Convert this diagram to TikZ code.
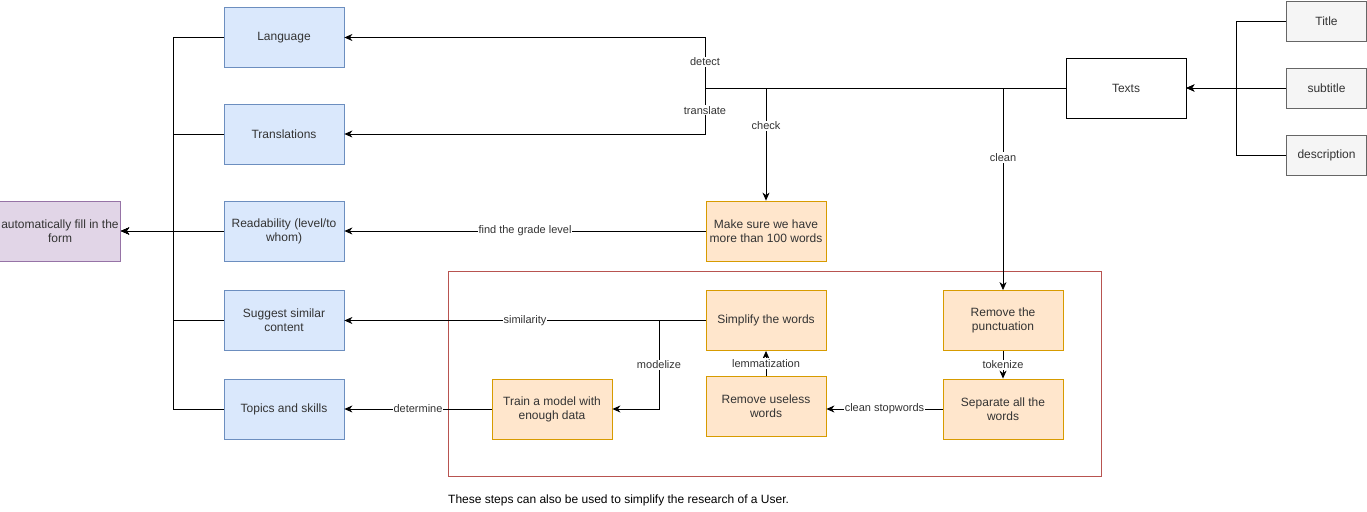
\documentclass[tikz,border=0pt]{standalone}
\usepackage{fontspec}
\setmainfont{Liberation Sans}
\usetikzlibrary{arrows.meta}
\definecolor{bfill}{HTML}{DAE8FC}
\definecolor{bdraw}{HTML}{6C8EBF}
\definecolor{pfill}{HTML}{E1D5E7}
\definecolor{pdraw}{HTML}{9673A6}
\definecolor{ofill}{HTML}{FFE6CC}
\definecolor{odraw}{HTML}{D79B00}
\definecolor{gfill}{HTML}{F5F5F5}
\definecolor{gdraw}{HTML}{666666}
\definecolor{gtext}{HTML}{333333}
\definecolor{redc}{HTML}{B85450}
\tikzset{
  box/.style={draw, minimum width=120pt, minimum height=60pt, align=center, font=\fontsize{12}{14}\selectfont, line width=0.8pt, inner sep=2pt, text=gtext},
  bluebox/.style={box, fill=bfill, draw=bdraw},
  purplebox/.style={box, fill=pfill, draw=pdraw},
  orangebox/.style={box, fill=ofill, draw=odraw},
  graybox/.style={box, fill=gfill, draw=gdraw, minimum width=80pt, minimum height=40pt},
  plainbox/.style={box, draw=black, fill=white},
  lbl/.style={fill=white, inner sep=1pt, font=\fontsize{11}{13}\selectfont, text=gtext},
  conn/.style={line width=0.8pt},
  arr/.style={conn, -{Stealth[length=8pt,width=7pt,inset=2.5pt]}},
}
\begin{document}
\begin{tikzpicture}[x=1pt,y=-1pt]
\useasboundingbox (0,0) rectangle (1367,511);
% group frame
\node[draw=redc, line width=0.8pt, minimum width=653pt, minimum height=205pt, inner sep=0pt] (grp) at (774.5,373.5) {};
% left column
\node[purplebox] (auto) at (60,231) {automatically fill in the\\form};
\node[bluebox] (lang) at (284,37.5) {Language};
\node[bluebox] (trans) at (284,134) {Translations};
\node[bluebox] (read) at (284,231) {Readability (level/to\\whom)};
\node[bluebox] (sugg) at (284,320.5) {Suggest similar\\content};
\node[bluebox] (topics) at (284,409) {Topics and skills};
% middle
\node[orangebox] (make) at (766,231) {Make sure we have\\more than 100 words};
\node[orangebox] (simp) at (766,320.5) {Simplify the words};
\node[orangebox] (ruw) at (766,406.5) {Remove useless\\words};
\node[orangebox] (train) at (552,409) {Train a model with\\enough data};
\node[orangebox] (punct) at (1003,320.5) {Remove the\\punctuation};
\node[orangebox] (sep) at (1003,409) {Separate all the\\words};
% right
\node[plainbox] (texts) at (1126,88) {Texts};
\node[graybox] (title) at (1326.5,21) {Title};
\node[graybox] (subt) at (1326.5,88) {subtitle};
\node[graybox] (desc) at (1326.5,155) {description};
\node[anchor=west, font=\fontsize{12}{14}\selectfont, inner sep=0pt] (note) at (448,500) {These steps can also be used to simplify the research of a User.};
% coordinates
\coordinate (bus) at (173,231);
\coordinate (tj) at (705,88);
\coordinate (rj) at (1236,88);
\coordinate (mj) at (659,320.5);
% left bus
\draw[arr] (lang.west) -| (bus) -- (auto.east);
\draw[arr] (trans.west) -| (bus) -- (auto.east);
\draw[arr] (read.west) -- (auto.east);
\draw[arr] (sugg.west) -| (bus) -- (auto.east);
\draw[arr] (topics.west) -| (bus) -- (auto.east);
% right inputs
\draw[arr] (title.west) -| (rj) -- (texts.east);
\draw[arr] (subt.west) -- (texts.east);
\draw[arr] (desc.west) -| (rj) -- (texts.east);
% from texts
\draw[arr] (texts.west) -- (tj) |- node[lbl, pos=0.26]{detect} (lang.east);
\draw[arr] (texts.west) -- (tj) |- node[lbl, pos=0.24]{translate} (trans.east);
\draw[arr] (texts.west) -| node[lbl, pos=0.668]{check} (make.north);
\draw[arr] (texts.west) -| node[lbl, pos=0.672]{clean} (punct.north);
% others
\draw[arr] (make.west) -- node[lbl]{find the grade level} (read.east);
\draw[arr] (simp.west) -- node[lbl]{similarity} (sugg.east);
\draw[arr] (simp.west) -- (mj) |- node[lbl, pos=0.25]{modelize} (train.east);
\draw[arr] (train.west) -- node[lbl]{determine} (topics.east);
\draw[arr] (ruw.north) -- node[lbl]{lemmatization} (simp.south);
\draw[arr] (punct.south) -- node[lbl]{tokenize} (sep.north);
\draw[arr] (sep.west) -- node[lbl]{clean stopwords} (sep.west -| ruw.east);
\end{tikzpicture}
\end{document}
